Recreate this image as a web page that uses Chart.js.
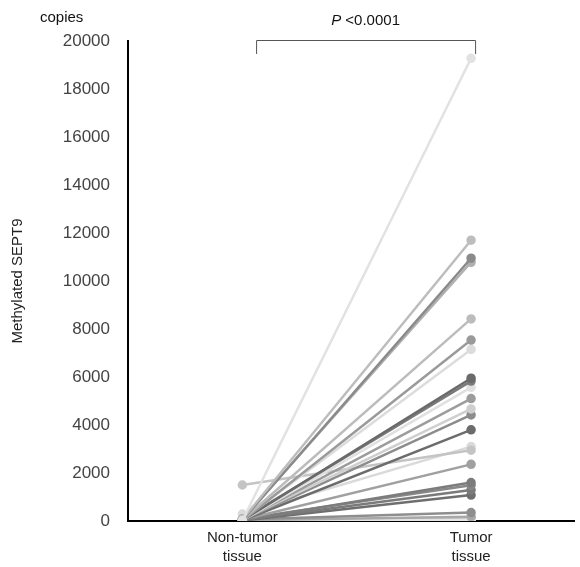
<!DOCTYPE html>
<html>
<head>
<meta charset="utf-8">
<script src="https://cdn.jsdelivr.net/npm/chart.js@4.4.0/dist/chart.umd.min.js"></script>
<style>
  body { margin: 0; background: #fff; }
  #wrap { width: 580px; height: 567px; }
</style>
</head>
<body>
<div id="wrap"><canvas id="pairChart" width="580" height="567"></canvas></div>
<script>
// Methylated SEPT9 copies, paired samples (non-tumor vs tumor)
const groups = ["Non-tumor tissue", "Tumor tissue"];
const nonTumor = [20, 60, 30, 80, 40, 10, 50, 30, 70, 20, 40, 60, 30, 20, 1500, 290, 50, 30, 80, 40, 20, 60, 30, 10, 40, 20];
const tumor    = [19280, 11700, 10950, 10780, 8420, 7540, 7150, 5950, 5830, 5570, 5100, 4670, 4420, 3800, 2950, 3100, 2360, 1600, 1490, 1290, 1080, 350, 180, 40, 100, 60];
const lineColors = ["#e2e2e2", "#bdbdbd", "#8a8a8a", "#b0b0b0", "#bcbcbc", "#9a9a9a", "#dcdcdc", "#6a6a6a", "#7a7a7a", "#e0e0e0",
                    "#9c9c9c", "#cfcfcf", "#8c8c8c", "#6c6c6c", "#c4c4c4", "#dadada", "#a0a0a0", "#7c7c7c", "#888888", "#7a7a7a",
                    "#6e6e6e", "#8e8e8e", "#a8a8a8", "#e4e4e4", "#c8c8c8", "#d4d4d4"];
const yTicks = [0, 2000, 4000, 6000, 8000, 10000, 12000, 14000, 16000, 18000, 20000];
const xPos = [1, 3];

const datasets = tumor.map((t, i) => ({
  data: [{ x: xPos[0], y: nonTumor[i] }, { x: xPos[1], y: t }],
  borderColor: lineColors[i],
  backgroundColor: lineColors[i],
  borderWidth: 2.5,
  pointRadius: 3.5,
  pointHoverRadius: 3.5
}));

// "copies" label and P-value bracket
const annotations = {
  id: "annotations",
  afterDraw(chart) {
    const ctx = chart.ctx;
    const x = chart.scales.x, y = chart.scales.y;
    ctx.save();
    ctx.fillStyle = "#111";
    ctx.font = "15px 'Liberation Sans', Arial, sans-serif";
    ctx.textAlign = "left";
    ctx.textBaseline = "middle";
    ctx.fillText("copies", 40, 18);

    const x1 = x.getPixelForValue(1.12), x2 = x.getPixelForValue(3.035);
    const top = y.getPixelForValue(20000) - 1;
    ctx.strokeStyle = "#555";
    ctx.lineWidth = 1;
    ctx.beginPath();
    ctx.moveTo(x1 + 0.5, top + 14);
    ctx.lineTo(x1 + 0.5, top + 0.5);
    ctx.lineTo(x2 + 0.5, top + 0.5);
    ctx.lineTo(x2 + 0.5, top + 14);
    ctx.stroke();

    const label = "<0.0001";
    ctx.font = "italic 15px 'Liberation Sans', Arial, sans-serif";
    const pw = ctx.measureText("P ").width;
    ctx.font = "15px 'Liberation Sans', Arial, sans-serif";
    const lw = ctx.measureText(label).width;
    const cx = (x1 + x2) / 2 - (pw + lw) / 2;
    ctx.font = "italic 15px 'Liberation Sans', Arial, sans-serif";
    ctx.fillText("P", cx, 21);
    ctx.font = "15px 'Liberation Sans', Arial, sans-serif";
    ctx.fillText(label, cx + pw, 21);
    ctx.restore();
  }
};

new Chart(document.getElementById("pairChart"), {
  type: "line",
  data: { datasets: datasets },
  options: {
    responsive: false,
    animation: false,
    layout: { padding: { top: 41, right: 2, left: 0, bottom: 0 } },
    plugins: { legend: { display: false }, tooltip: { enabled: false } },
    scales: {
      x: {
        type: "linear",
        min: 0,
        max: 3.9,
        afterBuildTicks: scale => { scale.ticks = xPos.map(v => ({ value: v })); },
        afterFit: scale => { scale.height = 46; },
        grid: { display: false, drawTicks: false },
        border: { color: "#000", width: 2 },
        ticks: {
          padding: 7,
          color: "#222",
          font: { family: "'Liberation Sans', Arial, sans-serif", size: 15, lineHeight: 1.3 },
          callback: v => v === xPos[0] ? ["Non-tumor", "tissue"] : ["Tumor", "tissue"]
        }
      },
      y: {
        min: 0,
        max: 20000,
        afterBuildTicks: scale => { scale.ticks = yTicks.map(v => ({ value: v })); },
        afterFit: scale => { scale.width = 128; },
        grid: { display: false, drawTicks: false },
        border: { color: "#000", width: 2 },
        ticks: {
          padding: 18,
          color: "#444",
          font: { family: "'Liberation Sans', Arial, sans-serif", size: 17 },
          callback: v => String(v)
        },
        title: {
          display: true,
          text: "Methylated SEPT9",
          color: "#222",
          font: { family: "'Liberation Sans', Arial, sans-serif", size: 15 },
          padding: { top: 9, bottom: 0 }
        }
      }
    }
  },
  plugins: [annotations]
});
</script>
</body>
</html>
